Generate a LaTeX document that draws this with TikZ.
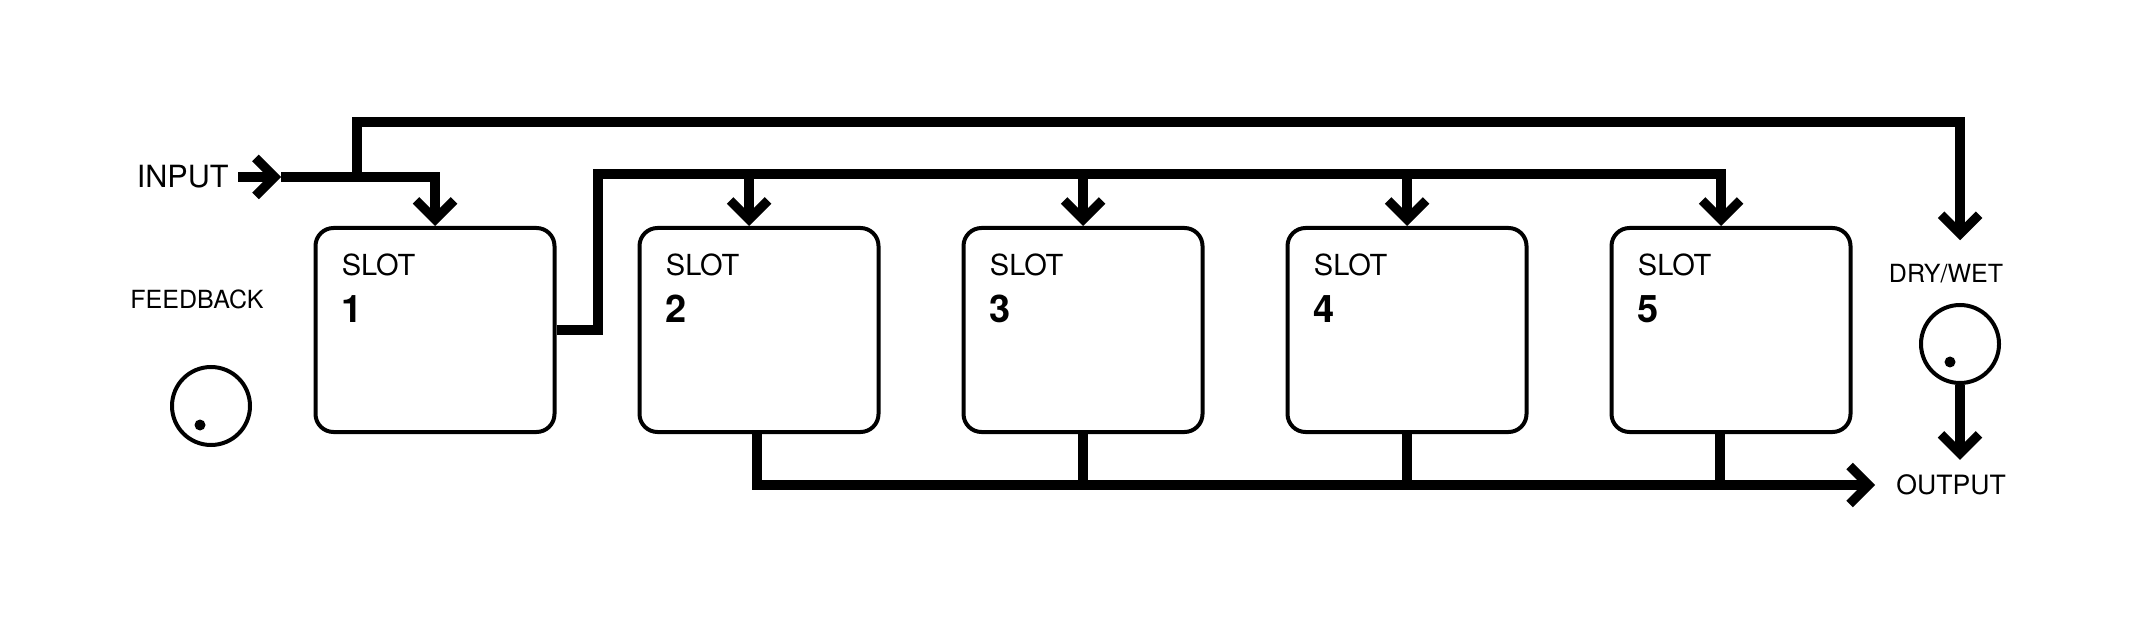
\documentclass[tikz,border=0pt]{standalone}
\usepackage{fontspec}
\setmainfont{TeX Gyre Heros}
\usetikzlibrary{positioning, arrows.meta}

\begin{document}
\begin{tikzpicture}[
    x=0.5pt, y=-0.5pt,
    every node/.style={align=center, inner sep=0pt},
    slotbox/.style={draw, rounded corners=9pt, line width=2pt, minimum width=119.5pt, minimum height=102pt},
    slottitle/.style={anchor=west, font=\fontsize{14.5}{17}\selectfont},
    slotnum/.style={anchor=west, font=\fontsize{19}{22}\selectfont\bfseries},
    lbl/.style={font=\fontsize{12.5}{15}\selectfont},
    knob/.style={draw, circle, line width=2pt, minimum size=39pt},
    dot/.style={fill, circle, minimum size=5.5pt},
    wire/.style={line width=4.6pt},
    arr/.style={wire, -{Straight Barb[length=9.5pt, width=19pt, sharp]}},
    node distance=40.5pt
]
\fill[white] (0,0) rectangle (2134,625);

% --- Slots ---
\node[slotbox] (slot1) at (435,330) {};
\node[slotbox, right=of slot1] (slot2) {};
\node[slotbox, right=of slot2] (slot3) {};
\node[slotbox, right=of slot3] (slot4) {};
\node[slotbox, right=of slot4] (slot5) {};

\node[slottitle] (title1) at ([shift={(28,39)}]slot1.north west) {SLOT};
\node[slottitle] (title2) at ([shift={(28,39)}]slot2.north west) {SLOT};
\node[slottitle] (title3) at ([shift={(28,39)}]slot3.north west) {SLOT};
\node[slottitle] (title4) at ([shift={(28,39)}]slot4.north west) {SLOT};
\node[slottitle] (title5) at ([shift={(28,39)}]slot5.north west) {SLOT};
\node[slotnum] (num1) at ([shift={(28,83)}]slot1.north west) {1};
\node[slotnum] (num2) at ([shift={(28,83)}]slot2.north west) {2};
\node[slotnum] (num3) at ([shift={(28,83)}]slot3.north west) {3};
\node[slotnum] (num4) at ([shift={(28,83)}]slot4.north west) {4};
\node[slotnum] (num5) at ([shift={(28,83)}]slot5.north west) {5};

% --- Labels and knobs ---
\node[font=\fontsize{15.3}{18}\selectfont, anchor=east] (input) at (229,177) {INPUT};
\node[lbl] (fblabel) at (197,299) {FEEDBACK};
\node[knob] (fbknob) at (211,406) {};
\node[dot] (fbdot) at ([shift={(-11,19)}]fbknob.center) {};
\node[lbl] (dwlabel) at (1946,274) {DRY/WET};
\node[knob] (dwknob) at (1960,344) {};
\node[dot] (dwdot) at ([shift={(-10,18)}]dwknob.center) {};
\node[font=\fontsize{13.3}{16}\selectfont, anchor=west] (output) at (1896,485) {OUTPUT};

% --- Helper points ---
\coordinate (inhead) at (281,177);
\coordinate (tap) at (357,177);
\coordinate (topleft) at (357,122);
\coordinate (fbtop) at (598,174);
\coordinate (in2) at ([xshift=-5pt]slot2.north);
\coordinate (in3) at (slot3.north);
\coordinate (in4) at (slot4.north);
\coordinate (in5) at ([xshift=-5pt]slot5.north);
\coordinate (out2) at ([xshift=-1pt]slot2.south);
\coordinate (out5) at ([xshift=-5.5pt]slot5.south);

% --- Input and dry path ---
\draw[arr, shorten <=4.5pt] (input.east) -- (inhead);
\draw[arr] (inhead) -| (slot1.north);
\draw[arr, shorten >=12pt] (tap) -- (topleft) -| (dwknob |- dwlabel.north);

% --- Feedback chain ---
\draw[arr] (slot1.east) -| (fbtop) -| (in5);
\draw[arr] (in2 |- fbtop) -- (in2);
\draw[arr] (in3 |- fbtop) -- (in3);
\draw[arr] (in4 |- fbtop) -- (in4);

% --- Output bus ---
\draw[arr, shorten >=10.5pt] (out2) |- (output.west);
\draw[wire] (slot3.south) -- (slot3.south |- output.west);
\draw[wire] (slot4.south) -- (slot4.south |- output.west);
\draw[wire] (out5) -- (out5 |- output.west);
\draw[arr, shorten >=7.3pt] (dwknob.south) -- (dwknob.south |- output.north);

\end{tikzpicture}
\end{document}
